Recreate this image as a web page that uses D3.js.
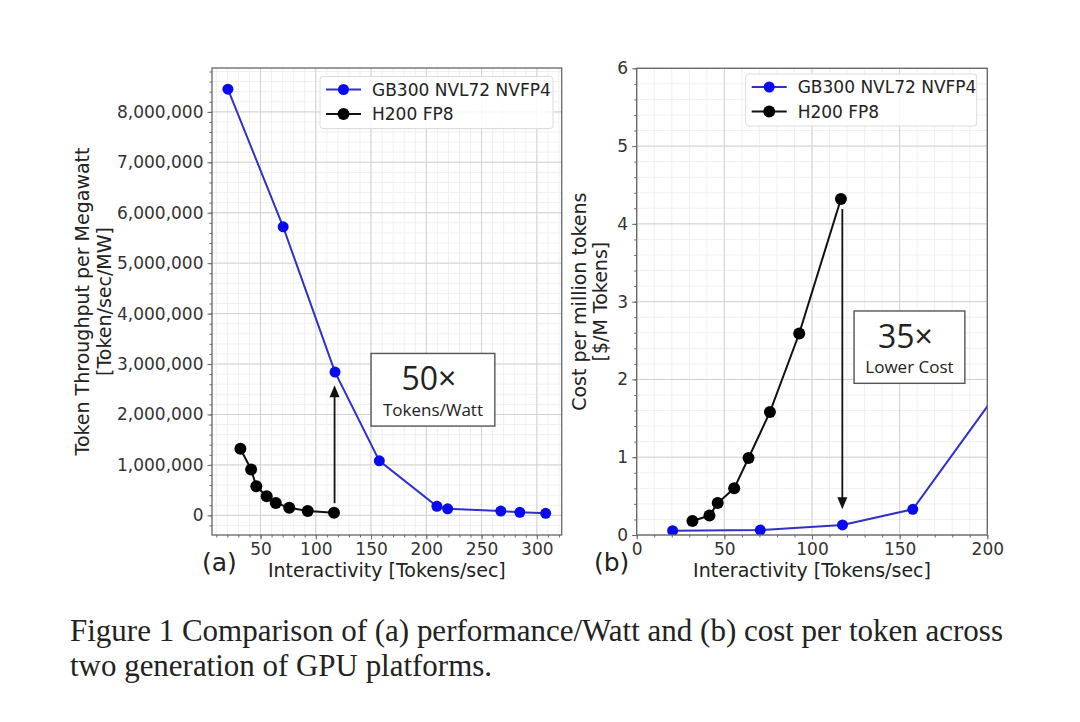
<!DOCTYPE html>
<html>
<head>
<meta charset="utf-8">
<script src="https://cdn.jsdelivr.net/npm/d3@7"></script>
<style>
  body { margin: 0; background: #fff; }
  svg text { font-family: "DejaVu Sans", sans-serif; fill: #222; }
  .grid-major line { stroke: #d2d2d2; stroke-width: 1; }
  .grid-minor line { stroke: #f0f0f0; stroke-width: 1; }
  .axis path, .axis line { stroke: #666; }
  .axis text { font-size: 17px; fill: #333; }
</style>
</head>
<body>
<svg id="fig" width="1080" height="722"></svg>
<script>
// GB300 NVL72 NVFP4 points
var gbX = [20.5, 70.5, 117.4, 157.5, 209.6, 219.3, 267.4, 284.6, 308];
var gbTput = [8450000, 5720000, 2840000, 1080000, 180000, 130000, 85000, 60000, 40000];
var gbCost = [0.055, 0.064, 0.13, 0.33, 1.95, 2.8, 4.2, 6.0, 9.0];
// H200 FP8 points
var hX = [31.8, 41.5, 46.2, 55.6, 63.8, 76, 92.7, 116.5];
var hTput = [1320000, 910000, 575000, 380000, 245000, 150000, 85000, 50000];
var hCost = [0.18, 0.25, 0.41, 0.60, 0.99, 1.58, 2.59, 4.32];

var seriesNames = ["GB300 NVL72 NVFP4", "H200 FP8"];
var leftXTicks = [50, 100, 150, 200, 250, 300];
var leftYTicks = [0, 1000000, 2000000, 3000000, 4000000, 5000000, 6000000, 7000000, 8000000];
var rightXTicks = [0, 50, 100, 150, 200];
var rightYTicks = [0, 1, 2, 3, 4, 5, 6];

var blueLine = "#3030c8", blueDot = "#0a0aee";

var svg = d3.select("#fig");

function drawPanel(opt) {
    var x = d3.scaleLinear().domain(opt.xDom).range([opt.x0, opt.x1]);
    var y = d3.scaleLinear().domain(opt.yDom).range([opt.y1, opt.y0]);
    var g = svg.append("g");

    //grid, minor then major
    var minorX = d3.range(Math.ceil(opt.xDom[0] / opt.xMinor) * opt.xMinor, opt.xDom[1] + 1e-9, opt.xMinor);
    var minorY = d3.range(Math.ceil(opt.yDom[0] / opt.yMinor) * opt.yMinor, opt.yDom[1] + 1e-9, opt.yMinor);
    var gm = g.append("g").attr("class", "grid-minor");
    gm.selectAll("line.vx").data(minorX).enter().append("line")
        .attr("x1", d => x(d)).attr("x2", d => x(d)).attr("y1", opt.y0).attr("y2", opt.y1);
    gm.selectAll("line.hy").data(minorY).enter().append("line")
        .attr("y1", d => y(d)).attr("y2", d => y(d)).attr("x1", opt.x0).attr("x2", opt.x1);
    var gM = g.append("g").attr("class", "grid-major");
    gM.selectAll("line.vx").data(opt.xTicks).enter().append("line")
        .attr("x1", d => x(d)).attr("x2", d => x(d)).attr("y1", opt.y0).attr("y2", opt.y1);
    gM.selectAll("line.hy").data(opt.yTicks).enter().append("line")
        .attr("y1", d => y(d)).attr("y2", d => y(d)).attr("x1", opt.x0).attr("x2", opt.x1);

    //axes with minor ticks
    g.append("g").attr("class", "axis")
        .attr("transform", "translate(0," + opt.y1 + ")")
        .call(d3.axisBottom(x).tickValues(minorX).tickSize(2.5).tickFormat(""))
        .call(a => a.select(".domain").remove());
    g.append("g").attr("class", "axis")
        .attr("transform", "translate(" + opt.x0 + ",0)")
        .call(d3.axisLeft(y).tickValues(minorY).tickSize(2.5).tickFormat(""))
        .call(a => a.select(".domain").remove());
    g.append("g").attr("class", "axis")
        .attr("transform", "translate(0," + opt.y1 + ")")
        .call(d3.axisBottom(x).tickValues(opt.xTicks).tickSize(4.5).tickPadding(3))
        .call(a => a.select(".domain").remove());
    g.append("g").attr("class", "axis")
        .attr("transform", "translate(" + opt.x0 + ",0)")
        .call(d3.axisLeft(y).tickValues(opt.yTicks).tickSize(4.5).tickPadding(4).tickFormat(opt.yFmt))
        .call(a => a.select(".domain").remove());

    //clip
    g.append("clipPath").attr("id", opt.id + "-clip")
        .append("rect").attr("x", opt.x0).attr("y", opt.y0)
        .attr("width", opt.x1 - opt.x0).attr("height", opt.y1 - opt.y0);
    var plot = g.append("g").attr("clip-path", "url(#" + opt.id + "-clip)");

    var line = d3.line().x(d => x(d[0])).y(d => y(d[1]));
    opt.series.forEach(function(s) {
        var pts = d3.zip(s.xs, s.ys);
        plot.append("path").datum(pts).attr("d", line)
            .attr("fill", "none").attr("stroke", s.line).attr("stroke-width", 2);
        plot.selectAll(null).data(pts).enter().append("circle")
            .attr("cx", d => x(d[0])).attr("cy", d => y(d[1]))
            .attr("r", s.r).attr("fill", s.dot);
    });

    //frame
    g.append("rect").attr("x", opt.x0).attr("y", opt.y0)
        .attr("width", opt.x1 - opt.x0).attr("height", opt.y1 - opt.y0)
        .attr("fill", "none").attr("stroke", "#666").attr("stroke-width", 1.3);

    //arrow
    var ax = x(opt.arrow.x), ay0 = y(opt.arrow.from), ay1 = y(opt.arrow.to);
    var dir = ay1 < ay0 ? 1 : -1;
    g.append("line").attr("x1", ax).attr("x2", ax).attr("y1", ay0).attr("y2", ay1 + dir * 9)
        .attr("stroke", "#111").attr("stroke-width", 1.8);
    g.append("path")
        .attr("d", "M" + ax + "," + ay1 + "L" + (ax - 5) + "," + (ay1 + dir * 12) + "L" + (ax + 5) + "," + (ay1 + dir * 12) + "Z")
        .attr("fill", "#111");

    //annotation box
    var b = opt.box;
    var bx0 = x(b.x0), bx1 = x(b.x1), by0 = y(b.y0), by1 = y(b.y1);
    g.append("rect").attr("x", bx0).attr("y", by0).attr("width", bx1 - bx0).attr("height", by1 - by0)
        .attr("fill", "#fff").attr("stroke", "#555").attr("stroke-width", 1.4);
    g.append("text").attr("x", (bx0 + bx1) / 2 - 4).attr("y", by0 + 37)
        .attr("text-anchor", "middle").style("font-family", "'Open Sans', sans-serif")
        .style("font-size", "32px").text(b.big);
    g.append("text").attr("x", (bx0 + bx1) / 2).attr("y", by1 - 10)
        .attr("text-anchor", "middle").style("font-family", "'Open Sans', sans-serif")
        .style("font-size", "17px").text(b.small);

    //legend
    var L = opt.legend;
    var lg = g.append("g").attr("transform", "translate(" + L.x + "," + L.y + ")");
    lg.append("rect").attr("width", L.w).attr("height", 52).attr("rx", 3)
        .attr("fill", "#fff").attr("fill-opacity", 0.85).attr("stroke", "#dcdcdc");
    opt.series.forEach(function(s, i) {
        var yy = 13 + i * 24.5;
        lg.append("line").attr("x1", 6).attr("x2", 41).attr("y1", yy).attr("y2", yy)
            .attr("stroke", s.line).attr("stroke-width", 2);
        lg.append("circle").attr("cx", 23.5).attr("cy", yy).attr("r", s.r).attr("fill", s.dot);
        lg.append("text").attr("x", 52).attr("y", yy + 6).style("font-size", "17px")
            .attr("fill", "#222").text(seriesNames[i]);
    });

    //labels
    g.append("text").attr("x", (opt.x0 + opt.x1) / 2).attr("y", 577)
        .attr("text-anchor", "middle").style("font-size", "19px").text("Interactivity [Tokens/sec]");
    g.append("text").attr("transform", "translate(" + opt.yl1 + "," + ((opt.y0 + opt.y1) / 2) + ") rotate(-90)")
        .attr("text-anchor", "middle").style("font-size", "19px").text(opt.yLabel1);
    g.append("text").attr("transform", "translate(" + opt.yl2 + "," + ((opt.y0 + opt.y1) / 2) + ") rotate(-90)")
        .attr("text-anchor", "middle").style("font-size", "19px").text(opt.yLabel2);
    g.append("text").attr("x", opt.tagX).attr("y", 571).style("font-size", "25px").text(opt.tag);
}

drawPanel({
    id: "a", x0: 212, x1: 561.7, y0: 68, y1: 535,
    xDom: [6.1, 322.5], yDom: [-390000, 8870000],
    xTicks: leftXTicks, yTicks: leftYTicks, xMinor: 10, yMinor: 200000,
    yFmt: d3.format(","),
    series: [
        {xs: gbX, ys: gbTput, line: blueLine, dot: blueDot, r: 5.5},
        {xs: hX, ys: hTput, line: "#111", dot: "#000", r: 6}
    ],
    arrow: {x: 117, from: 240000, to: 2580000},
    box: {x0: 150, x1: 262, y0: 3210000, y1: 1770000, big: "50×", small: "Tokens/Watt"},
    legend: {x: 320, y: 76.5, w: 233},
    yLabel1: "Token Throughput per Megawatt", yLabel2: "[Token/sec/MW]", yl1: 89, yl2: 111,
    tag: "(a)", tagX: 202
});

drawPanel({
    id: "b", x0: 636.7, x1: 987.3, y0: 68.3, y1: 535,
    xDom: [0, 200], yDom: [0, 6],
    xTicks: rightXTicks, yTicks: rightYTicks, xMinor: 10, yMinor: 0.2,
    yFmt: d3.format("d"),
    series: [
        {xs: gbX, ys: gbCost, line: blueLine, dot: blueDot, r: 5.5},
        {xs: hX, ys: hCost, line: "#111", dot: "#000", r: 6}
    ],
    arrow: {x: 117.3, from: 4.19, to: 0.33},
    box: {x0: 124, x1: 187.2, y0: 2.88, y1: 1.95, big: "35×", small: "Lower Cost"},
    legend: {x: 745.7, y: 74, w: 231},
    yLabel1: "Cost per million tokens", yLabel2: "[$/M Tokens]", yl1: 586, yl2: 607,
    tag: "(b)", tagX: 594
});

//caption
svg.append("text").attr("x", 70).attr("y", 641)
    .style("font-family", "'Liberation Serif', 'Times New Roman', serif").style("font-size", "31px")
    .attr("textLength", 933).attr("lengthAdjust", "spacingAndGlyphs").attr("fill", "#111")
    .text("Figure 1 Comparison of (a) performance/Watt and (b) cost per token across");
svg.append("text").attr("x", 70).attr("y", 676)
    .style("font-family", "'Liberation Serif', 'Times New Roman', serif").style("font-size", "31px")
    .attr("textLength", 422).attr("lengthAdjust", "spacingAndGlyphs").attr("fill", "#111")
    .text("two generation of GPU platforms.");
</script>
</body>
</html>
